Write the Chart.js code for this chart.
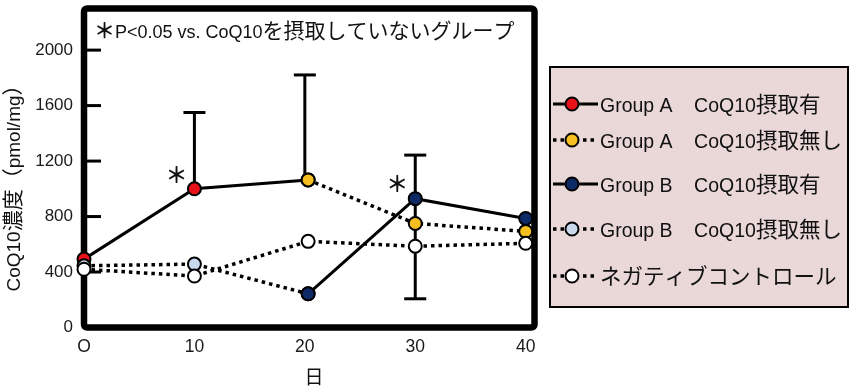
<!DOCTYPE html>
<html lang="ja">
<head>
<meta charset="utf-8">
<script src="https://cdn.jsdelivr.net/npm/chart.js@4.4.1/dist/chart.umd.min.js"></script>
<style>
  html, body { margin: 0; padding: 0; background: #fff; }
  #wrap { width: 850px; height: 391px; position: relative; }
</style>
</head>
<body>
<div id="wrap"><canvas id="chart" width="850" height="391"></canvas></div>
<script>
/* --- data --- */
const days = [0, 10, 20.3, 30, 40];
const xTicks = [0, 10, 20, 30, 40];
const xTickLabels = ['O', '10', '20', '30', '40'];
const yTicks = [0, 400, 800, 1200, 1600, 2000];

const seriesLabels = [
    'Group A\u3000CoQ10摂取有',
    'Group A\u3000CoQ10摂取無し',
    'Group B\u3000CoQ10摂取有',
    'Group B\u3000CoQ10摂取無し',
    'ネガティブコントロール'
];
const groupAWith    = [493, 1000, 1064, null, null];
const groupAWithout = [null, null, 1064, 750, 693];
const groupBWith    = [null, null, 243, 929, 786];
const groupBWithout = [445, 457, 243, null, null];
const negControl    = [420, 371, 621, 586, 607];

// error bars: centre, half-length, two-sided or upper only
const errDays   = [10, 20, 30];
const errCenter = [1000, 1064, 725];
const errSd     = [550, 757, 518];
const errBoth   = [false, false, true];

// significance marks
const sigDays   = [10, 30];
const sigValues = [1105, 1037];

const noteText = '＊P<0.05 vs. CoQ10を摂取していないグループ';
const yTitle = 'CoQ10濃度（pmol/mg）';
const xTitle = '日';

/* --- helpers --- */
const LATIN = '"Liberation Sans", Arial, sans-serif';
const CJK = '"Noto Sans CJK JP", sans-serif';
const kindOf = ch => ch === '＊' ? 'sym' : (/[\u3000-\u30ff\u3400-\u9fff\uff00-\uffef]/.test(ch) ? 'cjk' : 'lat');

function splitRuns(text) {
    const runs = [];
    for (const ch of text) {
        const k = kindOf(ch);
        if (runs.length && runs[runs.length - 1].k === k && k !== 'sym') runs[runs.length - 1].t += ch;
        else runs.push({ t: ch, k: k });
    }
    return runs;
}

function runFont(k, latinPx, cjkPx) {
    if (k === 'lat') return latinPx + 'px ' + LATIN;
    if (k === 'sym') return 'bold ' + cjkPx + 'px ' + CJK;
    return cjkPx + 'px ' + CJK;
}

// draw text mixing a latin font size and a CJK font size, baseline at y
function drawMixed(ctx, text, x, y, latinPx, cjkPx, align) {
    const runs = splitRuns(text);
    let total = 0;
    runs.forEach(r => {
        ctx.font = runFont(r.k, latinPx, cjkPx);
        r.w = ctx.measureText(r.t).width;
        total += r.w;
    });
    let cx = align === 'center' ? x - total / 2 : x;
    ctx.textAlign = 'left';
    ctx.textBaseline = 'alphabetic';
    runs.forEach(r => {
        ctx.font = runFont(r.k, latinPx, cjkPx);
        ctx.fillText(r.t, cx, y);
        cx += r.w;
    });
}

function toPoints(vals) {
    return days.map((d, i) => ({ x: d, y: vals[i] })).filter(p => p.y !== null);
}

const SOLID = [];
const DOTTED = [3.5, 4];

function series(label, vals, fill, dash, order) {
    return {
        label: label,
        data: toPoints(vals),
        borderColor: '#000',
        borderWidth: dash.length ? 3.5 : 3,
        borderDash: dash,
        borderCapStyle: 'butt',
        pointBackgroundColor: fill,
        pointBorderColor: '#000',
        pointBorderWidth: 2,
        pointRadius: 6.5,
        tension: 0,
        clip: false,
        order: order
    };
}

/* --- extra drawing: frame, error bars, notes, legend --- */
const decor = {
    id: 'decor',
    beforeDatasetsDraw(chart) {
        const { ctx, chartArea: a, scales: { x, y } } = chart;
        ctx.save();
        ctx.strokeStyle = '#000';
        ctx.lineWidth = 6.5;
        ctx.lineJoin = 'round';
        ctx.beginPath();
        ctx.roundRect(a.left, a.top, a.right - a.left, a.bottom - a.top, 3);
        ctx.stroke();

        // inward tick marks on the y axis
        ctx.lineWidth = 3;
        yTicks.forEach(v => {
            if (v === 0) return;
            const py = y.getPixelForValue(v);
            ctx.beginPath(); ctx.moveTo(a.left, py); ctx.lineTo(a.left + 17, py); ctx.stroke();
        });

        // error bars
        errDays.forEach((d, i) => {
            const px = x.getPixelForValue(d);
            const top = y.getPixelForValue(errCenter[i] + errSd[i]);
            const bot = y.getPixelForValue(errBoth[i] ? errCenter[i] - errSd[i] : errCenter[i]);
            ctx.beginPath(); ctx.moveTo(px, top); ctx.lineTo(px, bot); ctx.stroke();
            ctx.beginPath(); ctx.moveTo(px - 11, top); ctx.lineTo(px + 11, top); ctx.stroke();
            if (errBoth[i]) {
                ctx.beginPath(); ctx.moveTo(px - 11, bot); ctx.lineTo(px + 11, bot); ctx.stroke();
            }
        });
        ctx.restore();
    },
    afterDatasetsDraw(chart) {
        const { ctx, chartArea: a, scales: { x, y } } = chart;
        ctx.save();
        ctx.fillStyle = '#111';

        // asterisks
        ctx.font = 'bold 22px ' + CJK;
        ctx.textAlign = 'center';
        ctx.textBaseline = 'middle';
        sigDays.forEach((d, i) => {
            ctx.fillText('＊', x.getPixelForValue(d) - 18, y.getPixelForValue(sigValues[i]));
        });

        // note inside the plot
        drawMixed(ctx, noteText, a.left + 10, 38, 18, 21, 'left');

        // axis titles
        ctx.save();
        ctx.translate(20, 183);
        ctx.rotate(-Math.PI / 2);
        drawMixed(ctx, yTitle, 0, 0, 19, 21, 'center');
        ctx.restore();
        drawMixed(ctx, xTitle, 314, 384, 18, 19, 'center');

        // legend box
        const L = 550, T = 67, R = 848, B = 307;
        ctx.fillStyle = '#ead7d7';
        ctx.fillRect(L, T, R - L, B - T);
        ctx.strokeStyle = '#000';
        ctx.lineWidth = 2;
        ctx.strokeRect(L, T, R - L, B - T);

        const rowY = [104, 140, 184, 229, 276];
        chart.data.datasets.forEach((ds, i) => {
            const cy = rowY[i];
            ctx.save();
            ctx.strokeStyle = '#000';
            ctx.lineWidth = ds.borderWidth;
            ctx.setLineDash(ds.borderDash);
            ctx.beginPath(); ctx.moveTo(553, cy); ctx.lineTo(598, cy); ctx.stroke();
            ctx.restore();
            ctx.beginPath();
            ctx.arc(572, cy, ds.pointRadius, 0, Math.PI * 2);
            ctx.fillStyle = ds.pointBackgroundColor;
            ctx.fill();
            ctx.lineWidth = 2;
            ctx.stroke();
            ctx.fillStyle = '#111';
            drawMixed(ctx, ds.label, 600, cy + 8, 19.5, 21.5, 'left');
        });
        ctx.restore();
    }
};

/* --- chart --- */
function initChart() {
    const ctx = document.getElementById('chart').getContext('2d');
    new Chart(ctx, {
        type: 'line',
        data: {
            datasets: [
                series(seriesLabels[0], groupAWith, '#e8121b', SOLID, 5),
                series(seriesLabels[1], groupAWithout, '#f4bf1f', DOTTED, 2),
                series(seriesLabels[2], groupBWith, '#0e2a66', SOLID, 1),
                series(seriesLabels[3], groupBWithout, '#c9d9ee', DOTTED, 4),
                series(seriesLabels[4], negControl, '#ffffff', DOTTED, 0)
            ]
        },
        options: {
            responsive: false,
            animation: false,
            devicePixelRatio: 1,
            layout: { padding: { top: 4.5, right: 315.5, left: 0, bottom: 0 } },
            plugins: { legend: { display: false }, tooltip: { enabled: false } },
            scales: {
                x: {
                    type: 'linear', min: 0, max: 40.8,
                    grid: { display: false, drawTicks: false },
                    border: { display: false },
                    afterBuildTicks: s => { s.ticks = xTicks.map(v => ({ value: v })); },
                    afterFit: s => { s.height = 63.5; s.paddingLeft = 0; s.paddingRight = 0; },
                    ticks: {
                        padding: 9, color: '#1a1a1a', maxRotation: 0,
                        font: { family: LATIN, size: 17.5 },
                        callback: v => xTickLabels[xTicks.indexOf(v)]
                    }
                },
                y: {
                    type: 'linear', min: 0, max: 2300,
                    grid: { display: false, drawTicks: false },
                    border: { display: false },
                    afterBuildTicks: s => { s.ticks = yTicks.map(v => ({ value: v })); },
                    afterFit: s => { s.width = 84; s.paddingTop = 0; s.paddingBottom = 0; },
                    ticks: {
                        padding: 11, color: '#1a1a1a',
                        font: { family: LATIN, size: 17 },
                        callback: v => String(v)
                    }
                }
            }
        },
        plugins: [decor]
    });
}

window.onload = initChart;
</script>
</body>
</html>
